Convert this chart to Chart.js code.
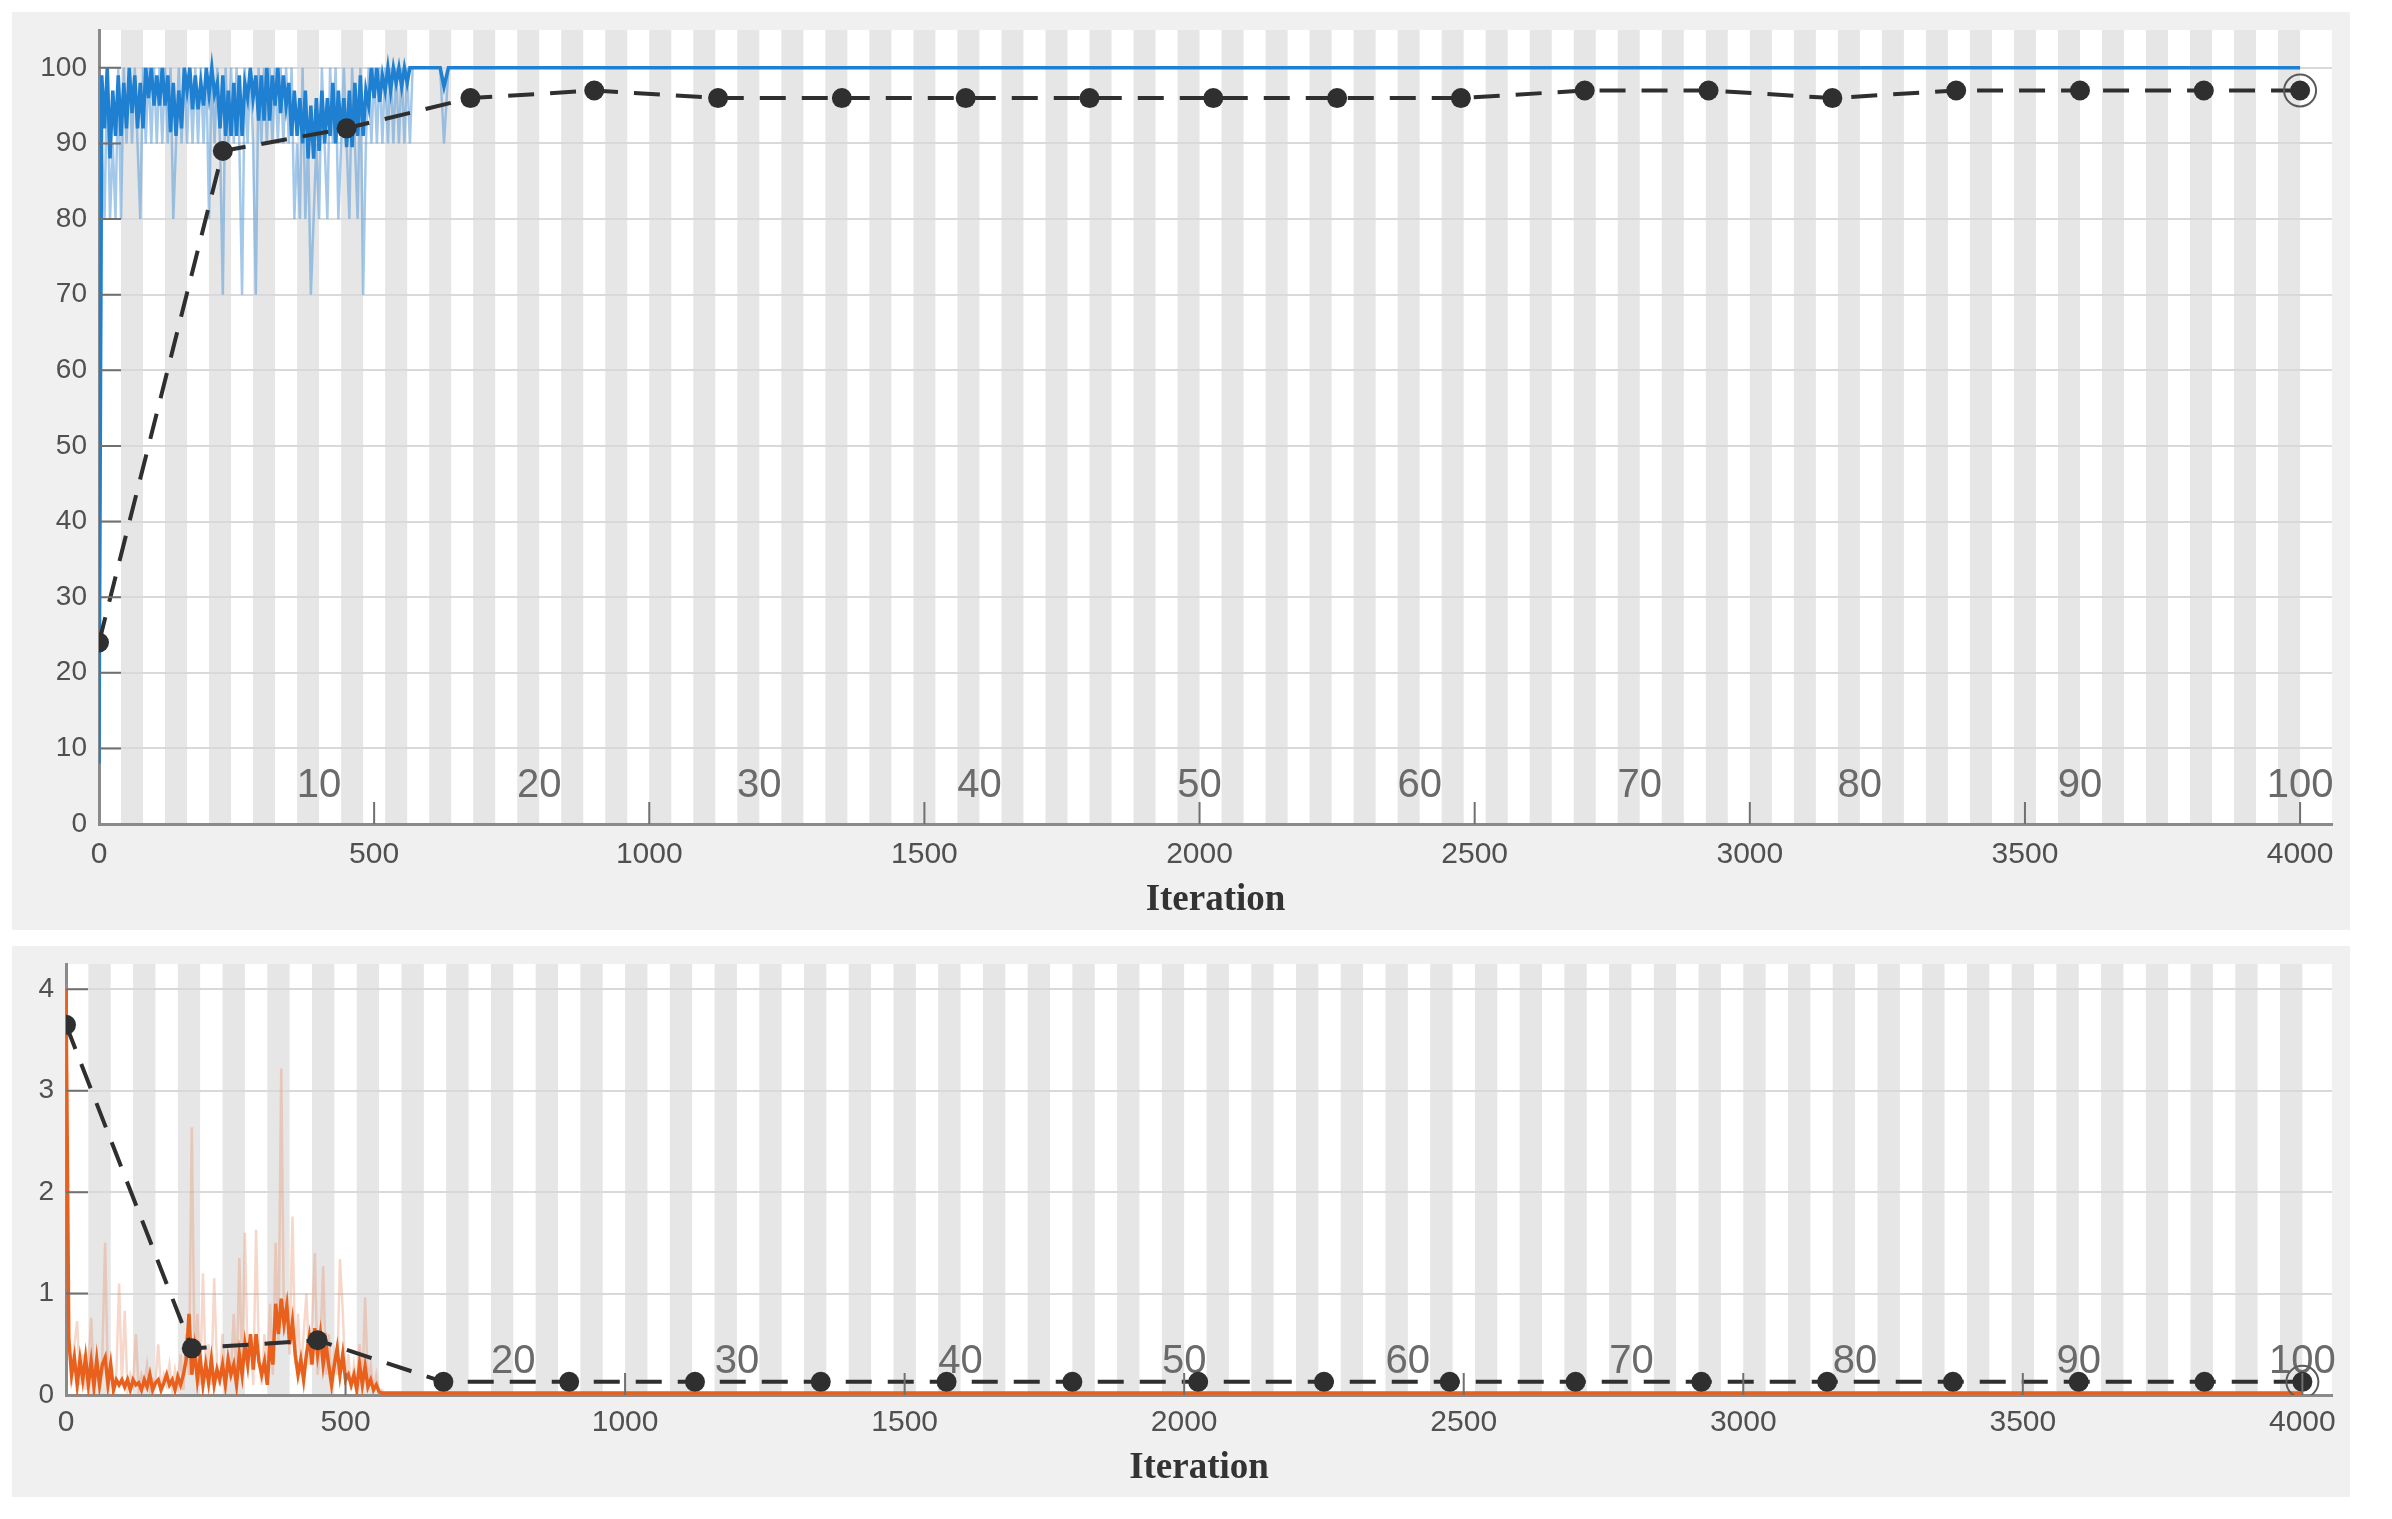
<!DOCTYPE html>
<html>
<head>
<meta charset="utf-8">
<title>Training progress</title>
<script src="https://cdn.jsdelivr.net/npm/chart.js@4.4.1/dist/chart.umd.min.js"></script>
<style>
  html, body { margin: 0; padding: 0; background: #ffffff; }
  body { width: 2392px; height: 1519px; position: relative; overflow: hidden; }
  .panel { position: absolute; background: #f0f0f0; }
  #accPanel { left: 12px; top: 12px; width: 2338px; height: 918px; }
  #lossPanel { left: 12px; top: 946px; width: 2338px; height: 551px; }
</style>
</head>
<body>
<div class="panel" id="accPanel"><canvas id="accChart"></canvas></div>
<div class="panel" id="lossPanel"><canvas id="lossChart"></canvas></div>
<script>
// --- data -------------------------------------------------------------
// the noisy start of training is read every 5 iterations (0..565)
const EARLY_STEP = 5;

const rawAccEarly = [
  10, 90, 80, 100, 80, 90, 80, 100, 80, 100,
  90, 100, 90, 100, 90, 80, 100, 90, 100, 90,
  100, 90, 100, 90, 100, 90, 100, 80, 90, 100,
  90, 100, 90, 100, 90, 100, 90, 100, 90, 100,
  80, 100, 90, 100, 90, 70, 100, 90, 100, 90,
  100, 90, 70, 100, 90, 100, 90, 70, 100, 90,
  100, 90, 100, 90, 100, 90, 100, 90, 100, 90,
  100, 80, 90, 80, 100, 80, 90, 70, 80, 90,
  80, 100, 90, 80, 100, 90, 100, 80, 90, 100,
  90, 80, 100, 90, 80, 100, 70, 90, 100, 90,
  100, 90, 100, 90, 100, 90, 100, 90, 100, 90,
  100, 90, 100, 90
];
const smoothAccEarly = [
  8, 99, 92, 100, 88, 97, 91, 99, 91, 98,
  92, 100, 94, 99, 92, 98, 92, 100, 96, 100,
  95, 99, 95, 100, 95, 99, 91.5, 98, 91, 97,
  92, 100, 97, 100, 94.5, 99, 94.5, 98, 95, 100,
  96.5, 100, 96.5, 98, 92, 99, 91, 97, 91, 98,
  91, 99, 91, 98, 96, 100, 96, 99, 93, 99,
  93, 100, 93, 99, 95, 100, 94, 99, 95, 98,
  91, 97, 91, 96, 90, 97, 88, 95, 88, 96,
  89, 97, 90, 96, 91, 98, 90, 97, 91, 96,
  89.5, 97, 89.5, 98, 91, 99, 91, 97, 95, 100,
  96, 100, 95.5, 99, 97, 100, 97, 100, 98, 100,
  97.5, 100, 98, 100
];
const accTailIter = [570, 620, 627, 635, 4000];
const rawAccTail = [100, 100, 90, 100, 100];
const smoothAccTail = [100, 100, 97.5, 100, 100];

const rawLossEarly = [
  4.05, 0.6, 0.1, 0.5, 0.73, 0.1, 0.4, 0.05, 0.3, 0.76,
  0.1, 0.35, 0.05, 0.4, 1.5, 0.1, 0.3, 0.05, 0.2, 1.1,
  0.1, 0.83, 0.05, 0.2, 0.1, 0.6, 0.05, 0.2, 0.1, 0.3,
  0.05, 0.15, 0.1, 0.5, 0.05, 0.2, 0.1, 0.3, 0.05, 0.25,
  0.1, 0.4, 0.05, 0.6, 0.2, 2.64, 0.3, 0.8, 0.1, 1.2,
  0.2, 0.5, 0.1, 1.15, 0.3, 0.1, 0.6, 0.1, 0.4, 0.2,
  0.8, 0.1, 1.35, 0.2, 1.6, 0.3, 0.5, 0.1, 1.63, 0.4,
  0.1, 0.6, 0.3, 0.9, 0.2, 1.5, 0.5, 3.22, 0.6, 1.0,
  0.4, 1.76, 0.3, 0.8, 0.2, 0.6, 1.0, 0.3, 0.7, 1.4,
  0.2, 0.5, 1.27, 0.2, 0.6, 0.1, 0.4, 0.2, 1.34, 0.83,
  0.1, 0.4, 0.05, 0.3, 0.1, 0.5, 0.05, 0.96, 0.1, 0.3,
  0.05, 0.2, 0.02, 0.05
];
const smoothLossEarly = [
  4.0, 0.55, 0.2, 0.37, 0.1, 0.35, 0.15, 0.37, 0.1, 0.33,
  0.08, 0.35, 0.1, 0.3, 0.37, 0.1, 0.3, 0.05, 0.15, 0.1,
  0.15, 0.08, 0.15, 0.05, 0.15, 0.1, 0.12, 0.05, 0.15, 0.08,
  0.2, 0.05, 0.12, 0.15, 0.05, 0.12, 0.2, 0.1, 0.15, 0.05,
  0.18, 0.1, 0.2, 0.35, 0.8, 0.2, 0.45, 0.15, 0.37, 0.1,
  0.3, 0.12, 0.35, 0.1, 0.25, 0.15, 0.3, 0.1, 0.35, 0.2,
  0.3, 0.1, 0.4, 0.2, 0.5, 0.3, 0.6, 0.25, 0.6, 0.33,
  0.2, 0.33, 0.1, 0.53, 0.3, 0.9, 0.6, 0.95, 0.7, 0.88,
  0.5, 0.72, 0.4, 0.2, 0.35, 0.15, 0.4, 0.57, 0.3, 0.66,
  0.4, 0.6, 0.3, 0.5, 0.29, 0.1, 0.3, 0.46, 0.2, 0.4,
  0.15, 0.2, 0.1, 0.2, 0.05, 0.3, 0.1, 0.28, 0.08, 0.15,
  0.05, 0.1, 0.03, 0.02
];
const lossTailIter = [570, 4000];
const rawLossTail = [0.02, 0.02];
const smoothLossTail = [0.02, 0.02];

const valIter = [0, 225, 450, 675, 900, 1125, 1350, 1575, 1800, 2025, 2250, 2475, 2700, 2925, 3150, 3375, 3600, 3825, 4000];
const valAcc = [24, 89, 92, 96, 97, 96, 96, 96, 96, 96, 96, 96, 97, 97, 96, 97, 97, 97, 97];
const valLoss = [3.65, 0.46, 0.54, 0.13, 0.13, 0.13, 0.13, 0.13, 0.13, 0.13, 0.13, 0.13, 0.13, 0.13, 0.13, 0.13, 0.13, 0.13, 0.13];

const iterTicks = [0, 500, 1000, 1500, 2000, 2500, 3000, 3500, 4000];
const accTicks = [0, 10, 20, 30, 40, 50, 60, 70, 80, 90, 100];
const lossTicks = [0, 1, 2, 3, 4];
const accEpochLabels = [10, 20, 30, 40, 50, 60, 70, 80, 90, 100];
const lossEpochLabels = [20, 30, 40, 50, 60, 70, 80, 90, 100];

const ITERS_PER_EPOCH = 40;
const NUM_EPOCHS = 100;

// --- helpers ----------------------------------------------------------
function seriesPoints(earlyVals, tailIters, tailVals) {
  const pts = earlyVals.map((v, i) => ({ x: i * EARLY_STEP, y: v }));
  tailIters.forEach((it, i) => pts.push({ x: it, y: tailVals[i] }));
  return pts;
}

function pairPoints(xs, ys) {
  return xs.map((x, i) => ({ x: x, y: ys[i] }));
}

const TICK_FONT = "'Liberation Sans', Arial, sans-serif";
const AXIS_GRAY = "#8a8a8a";

// stripes per epoch, epoch numbers and inward tick marks (MATLAB style)
function trainingPanel(epochLabels, labelLift) {
  return {
    id: "trainingPanel",
    beforeDraw(chart) {
      const { ctx, chartArea: a, scales } = chart;
      const x = scales.x;
      ctx.save();
      ctx.fillStyle = "#ffffff";
      ctx.fillRect(a.left, a.top, a.right - a.left, a.bottom - a.top);
      ctx.fillStyle = "#e6e6e6";
      for (let e = 2; e <= NUM_EPOCHS; e += 2) {
        const x0 = x.getPixelForValue((e - 1) * ITERS_PER_EPOCH);
        const x1 = x.getPixelForValue(e * ITERS_PER_EPOCH);
        ctx.fillRect(x0, a.top, x1 - x0, a.bottom - a.top);
      }
      ctx.restore();
    },
    beforeDatasetsDraw(chart) {
      const { ctx, chartArea: a, scales } = chart;
      ctx.save();
      ctx.fillStyle = "#6a6a6a";
      ctx.font = "40px " + TICK_FONT;
      ctx.textAlign = "center";
      ctx.textBaseline = "middle";
      epochLabels.forEach(function (ep) {
        ctx.fillText(String(ep), scales.x.getPixelForValue(ep * ITERS_PER_EPOCH), a.bottom - labelLift);
      });
      ctx.restore();
    },
    afterDatasetsDraw(chart) {
      const { ctx, chartArea: a, scales } = chart;
      ctx.save();
      ctx.strokeStyle = "#707070";
      ctx.lineWidth = 2;
      ctx.beginPath();
      scales.x.ticks.forEach(function (t) {
        if (t.value === 0) return;
        const px = scales.x.getPixelForValue(t.value);
        ctx.moveTo(px, a.bottom);
        ctx.lineTo(px, a.bottom - 22);
      });
      scales.y.ticks.forEach(function (t) {
        if (t.value === 0) return;
        const py = scales.y.getPixelForValue(t.value);
        ctx.moveTo(a.left, py);
        ctx.lineTo(a.left + 22, py);
      });
      ctx.stroke();
      ctx.restore();
    }
  };
}

function buildChart(canvasId, cfg) {
  const ctx = document.getElementById(canvasId).getContext("2d");
  return new Chart(ctx, {
    type: "line",
    data: {
      datasets: [
        {
          // final validation value
          data: [{ x: valIter[valIter.length - 1], y: cfg.val[cfg.val.length - 1] }],
          showLine: false,
          pointRadius: 16,
          pointBackgroundColor: "rgba(0,0,0,0)",
          pointBorderColor: "#5a5a5a",
          pointBorderWidth: 2
        },
        {
          data: pairPoints(valIter, cfg.val),
          borderColor: "#2f2f2f",
          borderWidth: 4,
          borderDash: [26, 16],
          pointRadius: 10,
          pointBackgroundColor: "#2f2f2f",
          pointBorderWidth: 0
        },
        {
          data: cfg.smooth,
          borderColor: cfg.smoothColor,
          borderWidth: 3.5,
          pointRadius: 0
        },
        {
          data: cfg.raw,
          borderColor: cfg.rawColor,
          borderWidth: 2.5,
          pointRadius: 0
        }
      ]
    },
    options: {
      responsive: true,
      maintainAspectRatio: false,
      animation: false,
      events: [],
      layout: { padding: { left: 0, right: 0, top: cfg.padTop, bottom: 0 } },
      elements: { line: { tension: 0 } },
      plugins: { legend: { display: false }, tooltip: { enabled: false } },
      scales: {
        x: {
          type: "linear",
          min: 0,
          max: cfg.xMax,
          afterBuildTicks: function (scale) {
            scale.ticks = iterTicks.map((v) => ({ value: v }));
          },
          afterFit: function (scale) {
            scale.height = cfg.xAxisHeight;
            scale.paddingLeft = 0;
            scale.paddingRight = 0;
          },
          grid: { display: false, drawTicks: false },
          border: { display: true, color: AXIS_GRAY, width: 3 },
          ticks: {
            color: "#505050",
            font: { family: TICK_FONT, size: 30 },
            padding: cfg.xTickPad,
            maxRotation: 0,
            autoSkip: false,
            callback: (v) => String(v)
          },
          title: {
            display: true,
            text: "Iteration",
            color: "#333333",
            font: { family: "'Liberation Serif', 'Times New Roman', serif", size: 37, weight: "bold" },
            padding: { top: 0, bottom: cfg.titlePad }
          }
        },
        y: {
          min: 0,
          max: cfg.yMax,
          afterBuildTicks: function (scale) {
            scale.ticks = cfg.yTicks.map((v) => ({ value: v }));
          },
          afterFit: function (scale) {
            scale.width = cfg.yAxisWidth;
            scale.paddingTop = 0;
            scale.paddingBottom = 0;
          },
          grid: { color: "#d9d9d9", lineWidth: 2, drawTicks: false },
          border: { display: true, color: AXIS_GRAY, width: 3 },
          ticks: {
            color: "#505050",
            font: { family: TICK_FONT, size: 28 },
            padding: 12,
            callback: (v) => String(v)
          }
        }
      }
    },
    plugins: [trainingPanel(cfg.epochLabels, cfg.labelLift)]
  });
}

buildChart("accChart", {
  raw: seriesPoints(rawAccEarly, accTailIter, rawAccTail),
  smooth: seriesPoints(smoothAccEarly, accTailIter, smoothAccTail),
  val: valAcc,
  rawColor: "rgba(90, 155, 215, 0.55)",
  smoothColor: "#1f7fd0",
  xMax: 4058,
  yMax: 105,
  yTicks: accTicks,
  padTop: 11,
  xAxisHeight: 106,
  yAxisWidth: 87,
  xTickPad: 13,
  titlePad: 7,
  epochLabels: accEpochLabels,
  labelLift: 38
});

buildChart("lossChart", {
  raw: seriesPoints(rawLossEarly, lossTailIter, rawLossTail),
  smooth: seriesPoints(smoothLossEarly, lossTailIter, smoothLossTail),
  val: valLoss,
  rawColor: "rgba(232, 140, 100, 0.35)",
  smoothColor: "#e8601c",
  xMax: 4053,
  yMax: 4.25,
  yTicks: lossTicks,
  padTop: 12,
  xAxisHeight: 102,
  yAxisWidth: 54,
  xTickPad: 10,
  titlePad: 6,
  epochLabels: lossEpochLabels,
  labelLift: 33
});
</script>
</body>
</html>
